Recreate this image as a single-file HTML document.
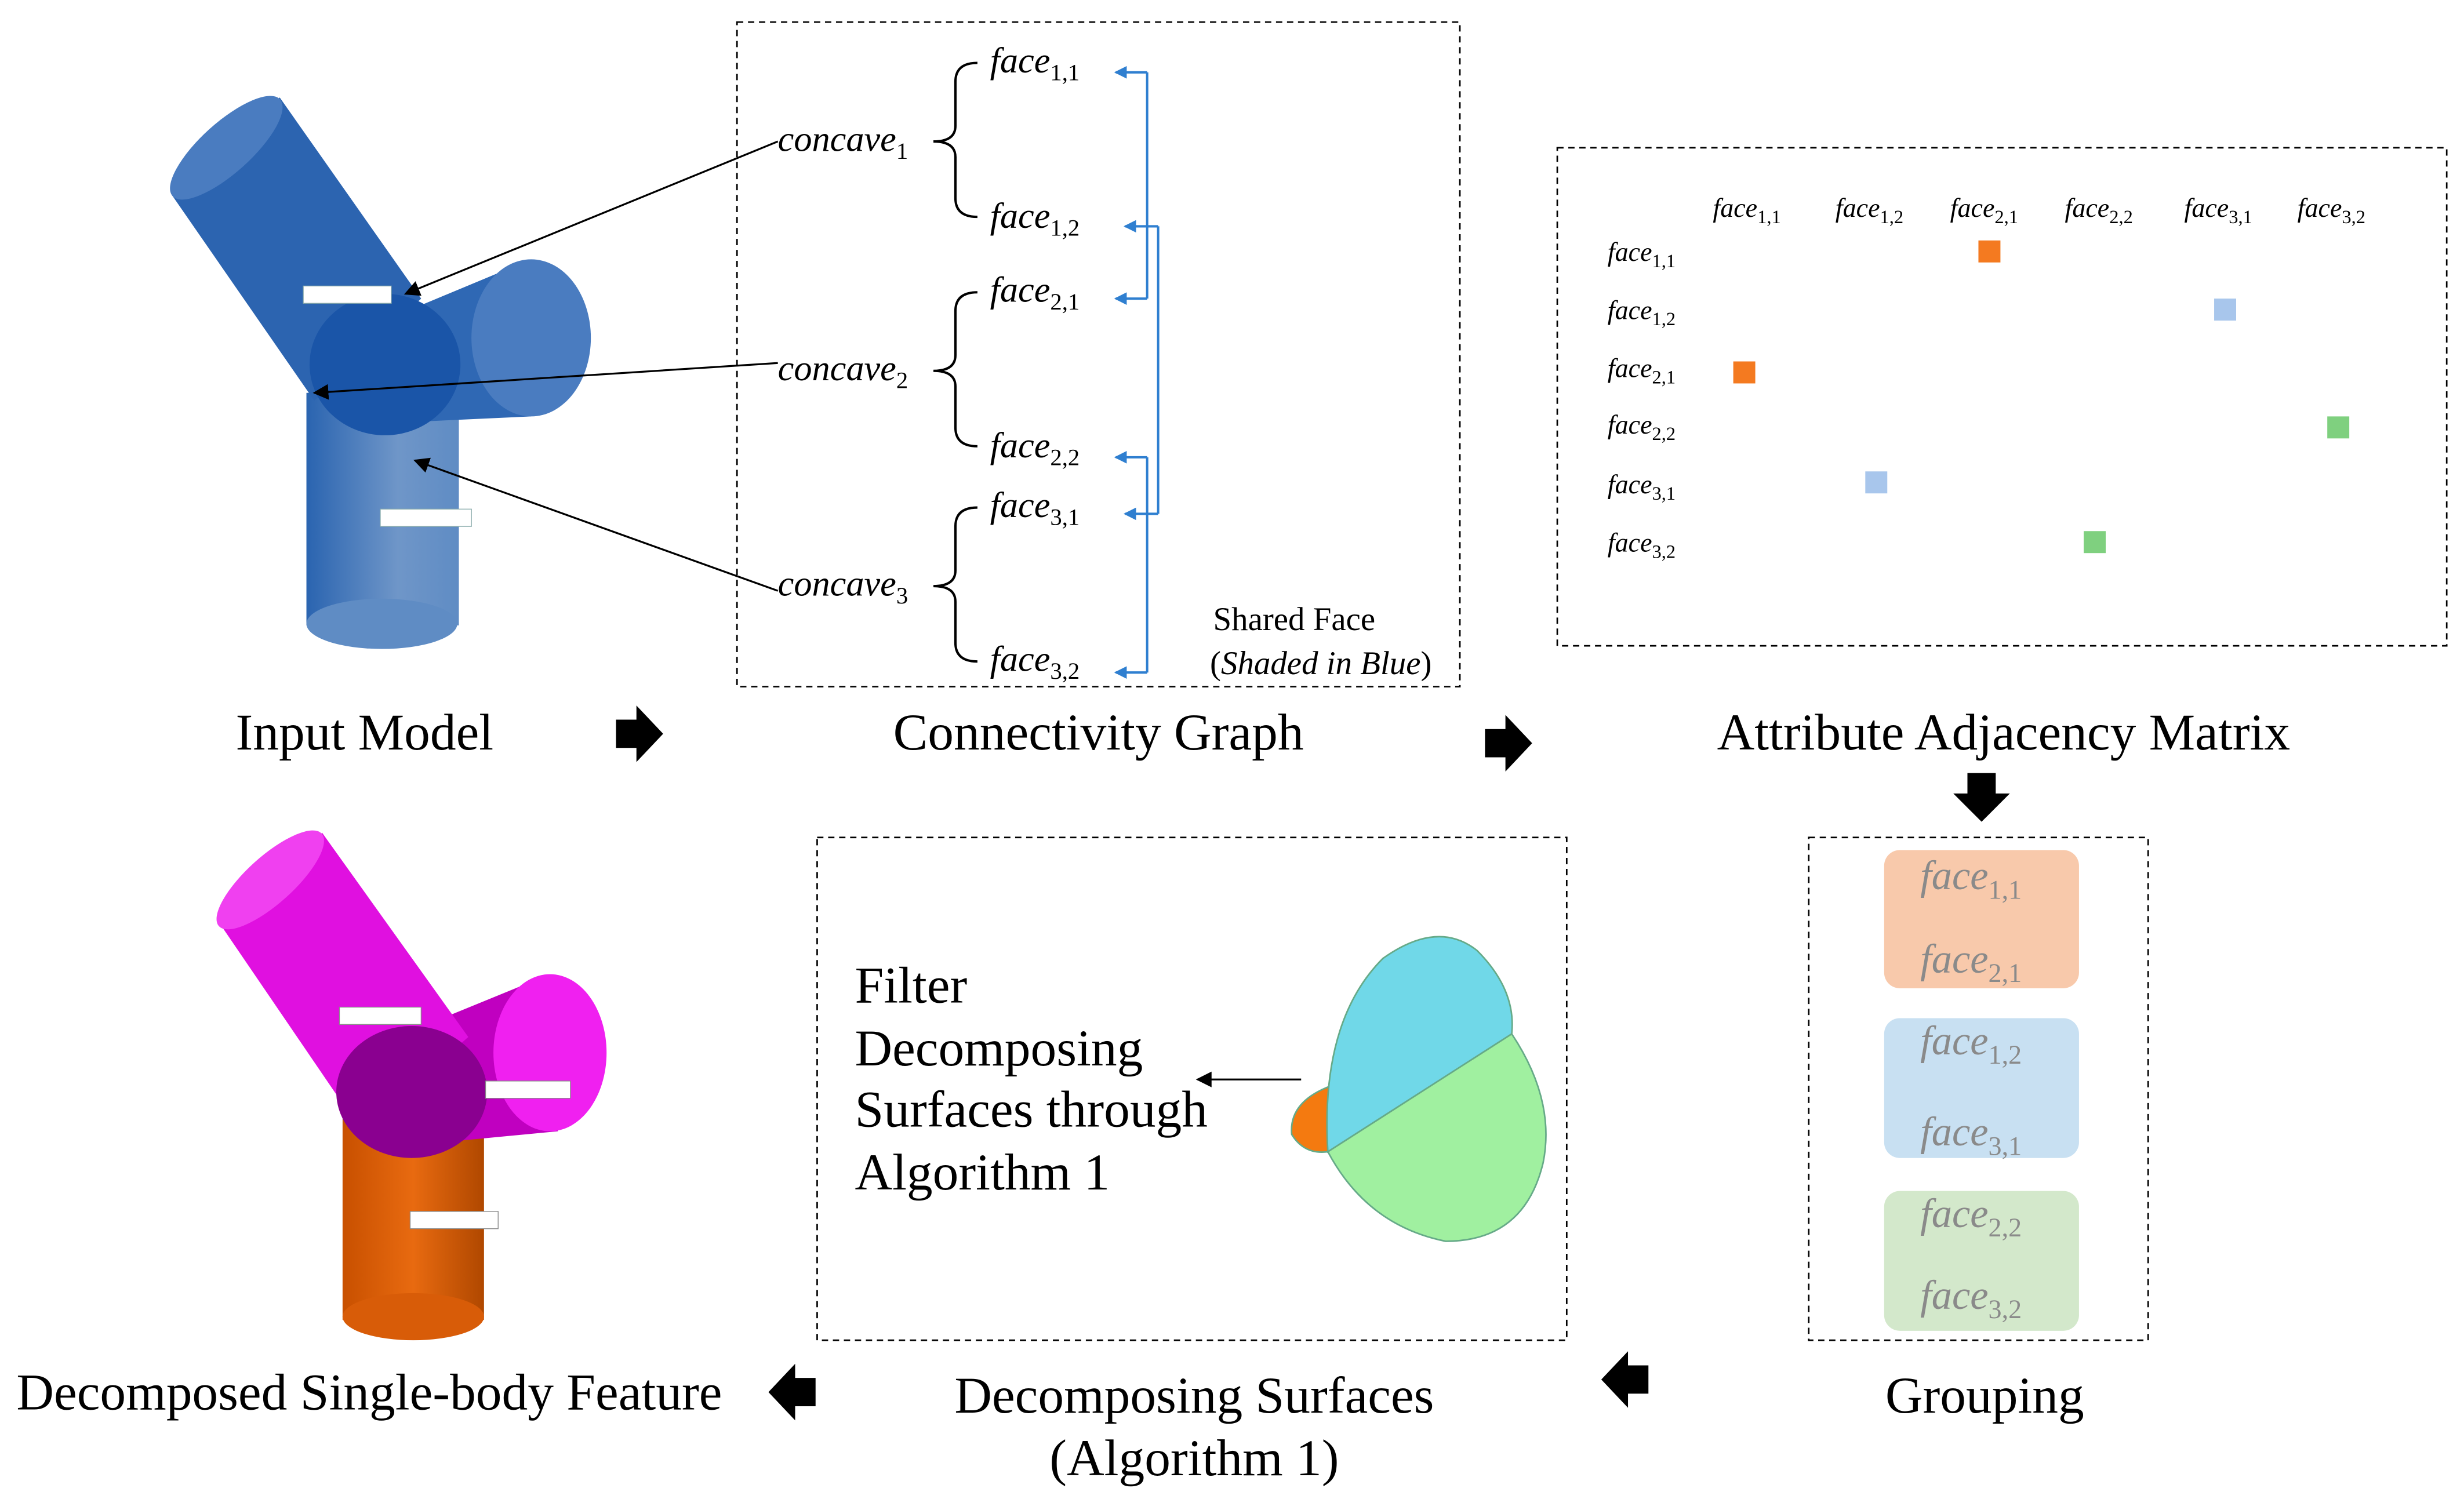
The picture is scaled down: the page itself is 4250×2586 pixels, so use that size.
<!DOCTYPE html>
<html><head><meta charset="utf-8"><style>
html,body{margin:0;padding:0;background:#fff}
svg{display:block}
text{font-family:"Liberation Serif",serif;fill:#000}
.it{font-style:italic}
.sub{font-style:normal}
.g text,.g tspan{fill:#8a8a8a}
</style></head><body>
<svg width="4250" height="2586" viewBox="0 0 1568 954" xmlns="http://www.w3.org/2000/svg">
<defs>
<marker id="ab" markerWidth="10" markerHeight="10" refX="9" refY="5" orient="auto" markerUnits="userSpaceOnUse"><path d="M0,0 L10,5 L0,10 z" fill="#000"/></marker>
<marker id="ablue" markerWidth="8" markerHeight="8" refX="7" refY="4" orient="auto" markerUnits="userSpaceOnUse"><path d="M0,0 L8,4 L0,8 z" fill="#2f7fd0"/></marker>
<linearGradient id="gb" x1="0" x2="1"><stop offset="0" stop-color="#2a64b0"/><stop offset="0.6" stop-color="#6f96c8"/><stop offset="1" stop-color="#5f8cc4"/></linearGradient>
<linearGradient id="go" x1="0" x2="1"><stop offset="0" stop-color="#c85000"/><stop offset="0.5" stop-color="#e86a10"/><stop offset="1" stop-color="#b04800"/></linearGradient>
</defs>

<!-- Input model (blue) -->
<rect x="195" y="250" width="97" height="148" fill="url(#gb)"/>
<ellipse cx="243" cy="397" rx="48" ry="16" fill="#5f8cc4"/>
<polygon points="230,210 338,165 338,265 230,270" fill="#2f68b4"/>
<ellipse cx="338" cy="215" rx="38" ry="50" fill="#4a7cc0"/>
<polygon points="110,125 178,62 268,190 200,255" fill="#2c64b0"/>
<ellipse cx="144" cy="94" rx="46" ry="16" transform="rotate(-42 144 94)" fill="#4a7cc0"/>
<ellipse cx="245" cy="232" rx="48" ry="45" fill="#1a55a8"/>
<rect x="193" y="182" width="56" height="11" fill="#fff" stroke="#8aa" stroke-width="0.5"/>
<rect x="242" y="324" width="58" height="11" fill="#fff" stroke="#8aa" stroke-width="0.5"/>
<line x1="495" y1="90" x2="258" y2="187" stroke="#000" stroke-width="1.2" marker-end="url(#ab)"/>
<line x1="495" y1="231" x2="200" y2="250" stroke="#000" stroke-width="1.2" marker-end="url(#ab)"/>
<line x1="495" y1="376" x2="264" y2="293" stroke="#000" stroke-width="1.2" marker-end="url(#ab)"/>
<text x="232" y="477" font-size="33" text-anchor="middle">Input Model</text>

<!-- Connectivity graph -->
<rect x="469" y="14" width="460" height="423" fill="none" stroke="#000" stroke-dasharray="4,3" stroke-width="1"/>
<g font-size="23">
<text x="495" y="96" class="it">concave<tspan class="sub" font-size="15" dy="5">1</tspan></text>
<text x="495" y="242" class="it">concave<tspan class="sub" font-size="15" dy="5">2</tspan></text>
<text x="495" y="379" class="it">concave<tspan class="sub" font-size="15" dy="5">3</tspan></text>
<text x="630" y="46" class="it">face<tspan class="sub" font-size="15" dy="5">1,1</tspan></text>
<text x="630" y="145" class="it">face<tspan class="sub" font-size="15" dy="5">1,2</tspan></text>
<text x="630" y="192" class="it">face<tspan class="sub" font-size="15" dy="5">2,1</tspan></text>
<text x="630" y="291" class="it">face<tspan class="sub" font-size="15" dy="5">2,2</tspan></text>
<text x="630" y="329" class="it">face<tspan class="sub" font-size="15" dy="5">3,1</tspan></text>
<text x="630" y="427" class="it">face<tspan class="sub" font-size="15" dy="5">3,2</tspan></text>
</g>
<g fill="none" stroke="#000" stroke-width="1.5">
<path d="M622,40 Q608,40 608,52 L608,80 Q608,90 594,90 Q608,90 608,100 L608,126 Q608,138 622,138"/>
<path d="M622,186 Q608,186 608,198 L608,226 Q608,236 594,236 Q608,236 608,246 L608,272 Q608,284 622,284"/>
<path d="M622,323 Q608,323 608,335 L608,363 Q608,373 594,373 Q608,373 608,383 L608,409 Q608,421 622,421"/>
</g>
<g fill="none" stroke="#2f7fd0" stroke-width="1.5">
<path d="M730,46 L730,190"/><line x1="730" y1="46" x2="710" y2="46" marker-end="url(#ablue)"/><line x1="730" y1="190" x2="710" y2="190" marker-end="url(#ablue)"/>
<path d="M737,144 L737,327"/><line x1="737" y1="144" x2="716" y2="144" marker-end="url(#ablue)"/><line x1="737" y1="327" x2="716" y2="327" marker-end="url(#ablue)"/>
<path d="M730,291 L730,428"/><line x1="730" y1="291" x2="710" y2="291" marker-end="url(#ablue)"/><line x1="730" y1="428" x2="710" y2="428" marker-end="url(#ablue)"/>
</g>
<text x="772" y="401" font-size="21">Shared Face</text>
<text x="770" y="429" font-size="21">(<tspan class="it">Shaded in Blue</tspan>)</text>
<text x="699" y="477" font-size="33" text-anchor="middle">Connectivity Graph</text>

<!-- Matrix -->
<rect x="991" y="94" width="566" height="317" fill="none" stroke="#000" stroke-dasharray="4,3" stroke-width="1"/>
<g font-size="17">
<text x="1090" y="138" class="it">face<tspan class="sub" font-size="12" dy="4">1,1</tspan></text>
<text x="1168" y="138" class="it">face<tspan class="sub" font-size="12" dy="4">1,2</tspan></text>
<text x="1241" y="138" class="it">face<tspan class="sub" font-size="12" dy="4">2,1</tspan></text>
<text x="1314" y="138" class="it">face<tspan class="sub" font-size="12" dy="4">2,2</tspan></text>
<text x="1390" y="138" class="it">face<tspan class="sub" font-size="12" dy="4">3,1</tspan></text>
<text x="1462" y="138" class="it">face<tspan class="sub" font-size="12" dy="4">3,2</tspan></text>
<text x="1023" y="166" class="it">face<tspan class="sub" font-size="12" dy="4">1,1</tspan></text>
<text x="1023" y="203" class="it">face<tspan class="sub" font-size="12" dy="4">1,2</tspan></text>
<text x="1023" y="240" class="it">face<tspan class="sub" font-size="12" dy="4">2,1</tspan></text>
<text x="1023" y="276" class="it">face<tspan class="sub" font-size="12" dy="4">2,2</tspan></text>
<text x="1023" y="314" class="it">face<tspan class="sub" font-size="12" dy="4">3,1</tspan></text>
<text x="1023" y="351" class="it">face<tspan class="sub" font-size="12" dy="4">3,2</tspan></text>
</g>
<rect x="1259" y="153" width="14" height="14" fill="#f47a20"/>
<rect x="1103" y="230" width="14" height="14" fill="#f47a20"/>
<rect x="1409" y="190" width="14" height="14" fill="#a8c6ec"/>
<rect x="1187" y="300" width="14" height="14" fill="#a8c6ec"/>
<rect x="1481" y="265" width="14" height="14" fill="#7fd07f"/>
<rect x="1326" y="338" width="14" height="14" fill="#7fd07f"/>
<text x="1275" y="477" font-size="33" text-anchor="middle">Attribute Adjacency Matrix</text>

<!-- Block arrows -->
<polygon points="392,458 405,458 405,449 422,467 405,485 405,476 392,476" fill="#000"/>
<polygon points="945,464 958,464 958,455 975,473 958,491 958,482 945,482" fill="#000"/>
<polygon points="1252,492 1270,492 1270,505 1279,505 1261,523 1243,505 1252,505" fill="#000"/>
<polygon points="1049,869 1036,869 1036,860 1019,878 1036,896 1036,887 1049,887" fill="#000"/>
<polygon points="519,877 506,877 506,868 489,886 506,904 506,895 519,895" fill="#000"/>

<!-- Grouping -->
<rect x="1151" y="533" width="216" height="320" fill="none" stroke="#000" stroke-dasharray="4,3" stroke-width="1"/>
<rect x="1199" y="541" width="124" height="88" rx="10" fill="#f8c9ab"/>
<rect x="1199" y="648" width="124" height="89" rx="10" fill="#c8e0f2"/>
<rect x="1199" y="758" width="124" height="89" rx="10" fill="#d3e8cb"/>
<g font-size="26" class="g">
<text x="1222" y="566" class="it">face<tspan class="sub" font-size="17" dy="6">1,1</tspan></text>
<text x="1222" y="619" class="it">face<tspan class="sub" font-size="17" dy="6">2,1</tspan></text>
<text x="1222" y="671" class="it">face<tspan class="sub" font-size="17" dy="6">1,2</tspan></text>
<text x="1222" y="729" class="it">face<tspan class="sub" font-size="17" dy="6">3,1</tspan></text>
<text x="1222" y="781" class="it">face<tspan class="sub" font-size="17" dy="6">2,2</tspan></text>
<text x="1222" y="833" class="it">face<tspan class="sub" font-size="17" dy="6">3,2</tspan></text>
</g>
<text x="1263" y="899" font-size="33" text-anchor="middle">Grouping</text>

<!-- Decomposing -->
<rect x="520" y="533" width="477" height="320" fill="none" stroke="#000" stroke-dasharray="4,3" stroke-width="1"/>
<g font-size="33">
<text x="544" y="638">Filter</text>
<text x="544" y="678">Decomposing</text>
<text x="544" y="717">Surfaces through</text>
<text x="544" y="757">Algorithm 1</text>
</g>
<line x1="828" y1="687" x2="762" y2="687" stroke="#000" stroke-width="1.2" marker-end="url(#ab)"/>
<path d="M850,690 Q820,700 822,722 Q830,735 845,733 Z" fill="#f47a10" stroke="#6a8" stroke-width="1"/>
<path d="M845,733 L962,658 Q990,700 982,740 Q970,790 920,790 Q870,780 845,733 Z" fill="#a0f0a0" stroke="#6a8" stroke-width="1"/>
<path d="M845,733 Q840,650 880,610 Q915,585 940,605 Q965,630 962,658 Z" fill="#70d8e8" stroke="#6a8" stroke-width="1"/>
<text x="760" y="899" font-size="33" text-anchor="middle">Decomposing Surfaces</text>
<text x="760" y="939" font-size="33" text-anchor="middle">(Algorithm 1)</text>

<!-- Decomposed model -->
<rect x="218" y="700" width="90" height="140" fill="url(#go)"/>
<ellipse cx="263" cy="838" rx="45" ry="15" fill="#d85c08"/>
<polygon points="240,665 350,620 355,720 250,730" fill="#c000c0"/>
<ellipse cx="350" cy="670" rx="36" ry="50" fill="#f020f0"/>
<polygon points="140,588 205,530 298,660 230,720" fill="#e010e0"/>
<ellipse cx="172" cy="560" rx="44" ry="15" transform="rotate(-42 172 560)" fill="#f040f0"/>
<ellipse cx="262" cy="695" rx="48" ry="42" fill="#8a0090"/>
<rect x="216" y="641" width="52" height="11" fill="#fff" stroke="#888" stroke-width="0.5"/>
<rect x="309" y="688" width="54" height="11" fill="#fff" stroke="#888" stroke-width="0.5"/>
<rect x="261" y="771" width="56" height="11" fill="#fff" stroke="#888" stroke-width="0.5"/>
<text x="235" y="897" font-size="33" text-anchor="middle">Decomposed Single-body Feature</text>
</svg>
</body></html>
